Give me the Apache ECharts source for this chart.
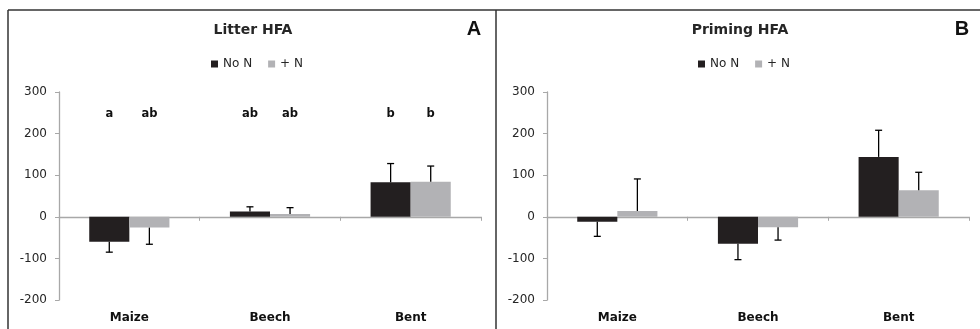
<!DOCTYPE html>
<html>
<head>
<meta charset="utf-8">
<script src="https://cdn.jsdelivr.net/npm/echarts@6/dist/echarts.min.js"></script>
<style>
  html, body { margin: 0; padding: 0; background: #fff; }
  #chart { width: 980px; height: 329px; }
</style>
</head>
<body>
<div id="chart"></div>
<script>
// values
const categories = ["Maize", "Beech", "Bent"];

const litterNoN = [-60, 13, 83];
const litterNoNErr = [25, 11, 45];
const litterPlusN = [-26, 7, 84];
const litterPlusNErr = [40, 15, 38];
const litterLettersNoN = ["a", "ab", "b"];
const litterLettersPlusN = ["ab", "ab", "b"];
const letterLevel = 250;

const primingNoN = [-12, -65, 144];
const primingNoNErr = [35, 38, 64];
const primingPlusN = [14, -25, 64];
const primingPlusNErr = [77, 31, 43];

const yTicks = { min: -200, max: 300, interval: 100 };

const darkColor = "#231f20";
const greyColor = "#b2b2b5";
const axisColor = "#a8a8a8";
const textColor = "#262626";
const fontFamily = "DejaVu Sans, sans-serif";
const gapRatio = 0.43; // barCategoryGap

const chart = echarts.init(document.getElementById("chart"));

// side: -1 for "No N", +1 for "+ N"
function errorSeries(gridIdx, values, errs, side) {
    return {
        type: "custom",
        xAxisIndex: gridIdx * 2,
        yAxisIndex: gridIdx,
        z: 5,
        silent: true,
        data: values.map((v, i) => [i, v, errs[i]]),
        renderItem: function (params, api) {
            const v = api.value(1);
            const e = api.value(2);
            const band = api.size([1, 0])[0];
            const bw = band * (1 - gapRatio) / 2;
            const p0 = api.coord([api.value(0), v]);
            const p1 = api.coord([api.value(0), v + (v >= 0 ? e : -e)]);
            const cx = p0[0] + side * bw / 2;
            const style = { stroke: "#000", lineWidth: 1.3 };
            return {
                type: "group",
                children: [
                    { type: "line", shape: { x1: cx, y1: p0[1], x2: cx, y2: p1[1] }, style },
                    { type: "line", shape: { x1: cx - 3.5, y1: p1[1], x2: cx + 3.5, y2: p1[1] }, style }
                ]
            };
        }
    };
}

function letterSeries(gridIdx, letters, side) {
    return {
        type: "custom",
        xAxisIndex: gridIdx * 2,
        yAxisIndex: gridIdx,
        silent: true,
        data: letters.map((t, i) => [i, letterLevel]),
        renderItem: function (params, api) {
            const band = api.size([1, 0])[0];
            const bw = band * (1 - gapRatio) / 2;
            const p = api.coord([api.value(0), api.value(1)]);
            return {
                type: "text",
                x: p[0] + side * bw / 2,
                y: p[1] + 1,
                style: {
                    text: letters[params.dataIndex],
                    fill: "#111",
                    font: "bold 11.5px " + fontFamily,
                    align: "center",
                    verticalAlign: "middle"
                }
            };
        }
    };
}

function barSeries(gridIdx, name, values, color) {
    return {
        name,
        type: "bar",
        xAxisIndex: gridIdx * 2,
        yAxisIndex: gridIdx,
        barGap: "0%",
        barCategoryGap: gapRatio * 100 + "%",
        itemStyle: { color },
        data: values
    };
}

const grids = [
    { left: 59, right: 499, top: 92, bottom: 29 },
    { left: 547, right: 11, top: 92, bottom: 29 }
];

const xAxes = [];
const yAxes = [];
[0, 1].forEach((g) => {
    // line at zero with ticks between categories
    xAxes.push({
        type: "category",
        gridIndex: g,
        data: categories,
        axisLine: { onZero: true, lineStyle: { color: axisColor, width: 1.3 } },
        axisTick: { show: true, length: 4, lineStyle: { color: axisColor } },
        axisLabel: { show: false }
    });
    // labels at bottom
    xAxes.push({
        type: "category",
        gridIndex: g,
        position: "bottom",
        data: categories,
        axisLine: { show: false, onZero: false },
        axisTick: { show: false },
        axisLabel: {
            margin: 12,
            color: "#111",
            fontWeight: "bold",
            fontSize: 12,
            fontFamily
        }
    });
    yAxes.push({
        type: "value",
        gridIndex: g,
        min: yTicks.min,
        max: yTicks.max,
        interval: yTicks.interval,
        splitLine: { show: false },
        axisLine: { show: true, lineStyle: { color: axisColor, width: 1.3 } },
        axisTick: { show: true, length: 4, lineStyle: { color: axisColor } },
        axisLabel: { color: textColor, fontSize: 12, fontFamily, margin: 12 }
    });
});

const legendBase = {
    top: 58,
    padding: 0,
    itemWidth: 7,
    itemHeight: 7,
    itemGap: 16,
    icon: "rect",
    textStyle: { color: textColor, fontSize: 12, fontFamily },
    data: ["No N", "+ N"]
};

const titleText = { fontSize: 14, fontWeight: "bold", color: textColor, fontFamily };
const letterText = { fontSize: 20, fontWeight: "bold", color: "#111", fontFamily: "Liberation Sans, Arial, sans-serif" };

chart.setOption({
    animation: false,
    backgroundColor: "#fff",
    title: [
        { text: "Litter HFA", left: 253, top: 23, padding: 0, textAlign: "center", textStyle: titleText },
        { text: "A", left: 474, top: 19, padding: 0, textAlign: "center", textStyle: letterText },
        { text: "Priming HFA", left: 740, top: 23, padding: 0, textAlign: "center", textStyle: titleText },
        { text: "B", left: 962, top: 19, padding: 0, textAlign: "center", textStyle: letterText }
    ],
    legend: [
        Object.assign({}, legendBase, { left: 211 }),
        Object.assign({}, legendBase, { left: 698 })
    ],
    grid: grids,
    xAxis: xAxes,
    yAxis: yAxes,
    graphic: [
        { type: "line", shape: { x1: 8, y1: 10, x2: 980, y2: 10 }, style: { stroke: "#333", lineWidth: 1.5 } },
        { type: "line", shape: { x1: 8, y1: 10, x2: 8, y2: 329 }, style: { stroke: "#333", lineWidth: 1.5 } },
        { type: "line", shape: { x1: 496, y1: 10, x2: 496, y2: 329 }, style: { stroke: "#333", lineWidth: 1.5 } }
    ],
    series: [
        barSeries(0, "No N", litterNoN, darkColor),
        barSeries(0, "+ N", litterPlusN, greyColor),
        errorSeries(0, litterNoN, litterNoNErr, -1),
        errorSeries(0, litterPlusN, litterPlusNErr, 1),
        letterSeries(0, litterLettersNoN, -1),
        letterSeries(0, litterLettersPlusN, 1),
        barSeries(1, "No N", primingNoN, darkColor),
        barSeries(1, "+ N", primingPlusN, greyColor),
        errorSeries(1, primingNoN, primingNoNErr, -1),
        errorSeries(1, primingPlusN, primingPlusNErr, 1)
    ]
});
</script>
</body>
</html>
